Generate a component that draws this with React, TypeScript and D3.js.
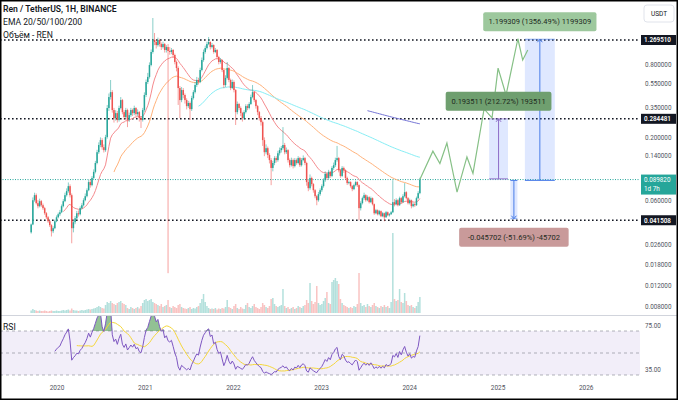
import React from "react";
import * as d3 from "d3";

// ---------- DATA ----------
const candleStart = "2019-09-16"; // weekly candles
const firstOpen = 0.033;
const closes = [
  0.0383,0.0607,0.0668,0.0574,0.0542,0.0596,0.0552,0.0522,0.0474,0.0439,
  0.0407,0.0378,0.0337,0.0357,0.0407,0.0439,0.0465,0.0483,0.0542,0.0596,
  0.0668,0.0721,0.0793,0.0668,0.0357,0.0400,0.0431,0.0474,0.0465,0.0522,
  0.0552,0.0607,0.0655,0.0734,0.0856,0.0808,0.0926,0.104,0.123,0.151,
  0.173,0.190,0.166,0.157,0.201,0.349,0.430,0.472,0.336,0.288,
  0.317,0.278,0.349,0.406,0.323,0.294,0.336,0.278,0.305,0.336,
  0.317,0.349,0.311,0.323,0.288,0.278,0.336,0.447,0.572,0.630,
  0.789,1.011,1.270,1.222,1.153,1.270,1.175,1.110,1.175,1.050,
  1.110,1.030,1.011,1.050,0.955,0.836,0.746,0.510,0.406,0.491,
  0.447,0.406,0.362,0.384,0.342,0.422,0.472,0.540,0.594,0.572,
  0.718,0.868,1.011,1.089,1.175,1.222,1.110,1.153,1.011,1.050,
  0.919,0.836,0.868,0.718,0.540,0.618,0.746,0.594,0.510,0.572,
  0.491,0.323,0.377,0.349,0.317,0.288,0.323,0.362,0.349,0.377,
  0.430,0.472,0.406,0.362,0.323,0.288,0.267,0.190,0.151,0.163,
  0.143,0.130,0.112,0.123,0.135,0.130,0.148,0.157,0.163,0.173,
  0.151,0.157,0.130,0.118,0.130,0.116,0.130,0.123,0.135,0.118,
  0.130,0.135,0.123,0.0856,0.0763,0.0926,0.0824,0.0734,0.0655,0.0607,
  0.0681,0.0734,0.0793,0.0888,0.100,0.0926,0.104,0.0962,0.112,0.118,
  0.130,0.135,0.107,0.0962,0.112,0.107,0.0926,0.0840,0.0856,0.0793,
  0.0749,0.0808,0.0856,0.0808,0.0522,0.0574,0.0631,0.0668,0.0607,0.0643,
  0.0585,0.0631,0.0563,0.0474,0.0502,0.0465,0.0493,0.0448,0.0474,0.0439,
  0.0483,0.0456,0.0465,0.0483,0.0585,0.0563,0.0607,0.0552,0.0631,0.0585,
  0.0655,0.0707,0.0631,0.0574,0.0607,0.0542,0.0563,0.0552,0.0631,0.0694,
  0.08982,
];
const highs = [
  0.0390,0.0640,0.0700,0.0690,0.0610,0.0625,0.0610,0.0570,0.0535,0.0485,
  0.0450,0.0415,0.0385,0.0370,0.0420,0.0455,0.0480,0.0505,0.0560,0.0620,
  0.0700,0.0760,0.0850,0.0820,0.0690,0.0420,0.0450,0.0495,0.0500,0.0540,
  0.0575,0.0630,0.0690,0.0760,0.0890,0.0900,0.0960,0.109,0.128,0.158,
  0.182,0.200,0.197,0.175,0.210,0.370,0.460,0.594,0.490,0.350,
  0.335,0.330,0.365,0.430,0.415,0.335,0.350,0.345,0.320,0.350,
  0.345,0.365,0.355,0.340,0.330,0.300,0.350,0.470,0.600,0.680,
  0.830,1.060,1.927,1.450,1.280,1.330,1.300,1.210,1.230,1.200,
  1.150,1.175,1.110,1.090,1.070,0.980,0.860,0.770,0.530,0.520,
  0.510,0.460,0.420,0.400,0.395,0.440,0.490,0.570,0.630,0.620,
  0.750,0.910,1.060,1.140,1.230,1.344,1.240,1.200,1.170,1.090,
  1.070,0.940,0.900,0.880,0.730,0.650,0.836,0.760,0.610,0.600,
  0.590,0.500,0.395,0.385,0.360,0.325,0.335,0.375,0.375,0.390,
  0.450,0.540,0.480,0.415,0.370,0.330,0.300,0.275,0.200,0.175,
  0.168,0.148,0.135,0.128,0.140,0.140,0.155,0.165,0.170,0.243,
  0.180,0.165,0.160,0.134,0.136,0.134,0.135,0.134,0.140,0.138,
  0.135,0.142,0.138,0.126,0.0890,0.0990,0.0950,0.0840,0.0750,0.0670,
  0.0710,0.0760,0.0820,0.0920,0.105,0.103,0.108,0.106,0.116,0.124,
  0.136,0.170,0.138,0.110,0.116,0.115,0.109,0.0950,0.0880,0.0870,
  0.0810,0.0830,0.0880,0.0870,0.0820,0.0595,0.0650,0.0700,0.0680,0.0665,
  0.0655,0.0650,0.0640,0.0570,0.0515,0.0510,0.0505,0.0500,0.0485,0.0480,
  0.0495,0.0490,0.0475,0.0495,0.0888,0.0620,0.0630,0.0620,0.0650,0.0645,
  0.0680,0.0840,0.0720,0.0645,0.0625,0.0615,0.0580,0.0575,0.0650,0.0720,
  0.0930,
];
const lows = [
  0.0322,0.0378,0.0590,0.0560,0.0520,0.0530,0.0535,0.0505,0.0460,0.0425,
  0.0395,0.0365,0.0305,0.0325,0.0350,0.0400,0.0430,0.0450,0.0475,0.0530,
  0.0585,0.0650,0.0700,0.0640,0.0268,0.0330,0.0385,0.0420,0.0445,0.0455,
  0.0510,0.0540,0.0595,0.0640,0.0720,0.0770,0.0790,0.0900,0.101,0.120,
  0.146,0.166,0.158,0.150,0.152,0.195,0.330,0.410,0.320,0.265,
  0.275,0.265,0.270,0.340,0.310,0.280,0.285,0.243,0.268,0.295,
  0.300,0.305,0.298,0.300,0.270,0.239,0.270,0.325,0.430,0.550,
  0.610,0.770,0.980,1.150,1.080,1.120,1.120,1.050,1.080,1.000,
  1.000,0.0152,0.960,0.970,0.910,0.800,0.700,0.370,0.288,0.390,
  0.420,0.380,0.340,0.350,0.278,0.330,0.410,0.460,0.520,0.545,
  0.560,0.700,0.840,0.980,1.060,1.150,1.060,1.080,0.980,0.990,
  0.890,0.800,0.810,0.690,0.510,0.520,0.600,0.570,0.490,0.500,
  0.470,0.253,0.310,0.335,0.300,0.270,0.280,0.315,0.335,0.340,
  0.370,0.420,0.390,0.345,0.305,0.275,0.250,0.170,0.140,0.145,
  0.135,0.122,0.0808,0.105,0.118,0.124,0.126,0.142,0.150,0.158,
  0.145,0.146,0.124,0.113,0.115,0.111,0.113,0.119,0.120,0.114,
  0.115,0.127,0.118,0.0800,0.0720,0.0740,0.0790,0.0700,0.0630,0.0552,
  0.0590,0.0660,0.0710,0.0770,0.0860,0.0890,0.0900,0.0930,0.0940,0.108,
  0.114,0.126,0.103,0.0930,0.0940,0.102,0.0890,0.0810,0.0820,0.0770,
  0.0720,0.0735,0.0790,0.0780,0.0415,0.0500,0.0560,0.0610,0.0590,0.0595,
  0.0570,0.0575,0.0550,0.0460,0.0465,0.0455,0.0455,0.0440,0.0440,0.0407,
  0.0435,0.0448,0.0445,0.0460,0.0475,0.0540,0.0550,0.0540,0.0545,0.0570,
  0.0580,0.0640,0.0615,0.0560,0.0560,0.0520,0.0530,0.0535,0.0545,0.0620,
  0.0680,
];
const volumes = [
  5,8,6,5,4,5,4,4,5,4, 3,4,5,4,4,5,4,4,5,6, 5,6,7,5,9,6,5,5,4,5,
  6,5,6,7,8,7,8,9,10,12, 14,12,10,9,16,22,20,24,20,18, 16,20,22,24,20,18,16,10,8,12,
  10,8,10,12,9,14,20,26,28,24, 26,28,22,20,18,16,14,18,12,14, 16,26,12,10,14,12,10,16,18,12,
  10,9,8,10,12,8,10,9,12,14, 20,28,38,22,14,10,8,9,8,10, 7,9,8,10,9,12,26,12,10,8,
  14,18,10,8,12,9,8,16,20,12, 10,14,18,12,10,8,12,20,16,12, 10,14,28,30,18,14,12,14,16,48,
  14,10,12,8,10,12,8,10,14,12, 10,14,16,26,20,60,24,18,22,54, 20,16,18,24,30,42,20,18,62,66,
  70,64,58,28,20,16,14,12,10,12, 10,14,12,18,80,20,14,16,12,18, 14,12,16,20,14,12,10,14,12,16,
  12,14,10,22,160,28,24,26,48,22, 20,40,24,16,14,16,12,10,14,22, 32,
];

const emaPeriods = [20, 50, 100, 200];
const emaColors = ["#f58a8e", "#ffb27a", "#86eef5", "#7474d6"];
const rsiPeriod = 14;

const priceTicks = [0.8, 0.55, 0.35, 0.2, 0.14, 0.06, 0.026, 0.018, 0.012, 0.008];
const levelPrices = [1.26951, 0.284481, 0.041508];
const levelLabels = ["1.269510", "0.284481", "0.041508"];
const lastPrice = 0.08982;
const lastLabel = "0.089820";
const countdown = "1d 7h";
const yearTicks = [2020, 2021, 2022, 2023, 2024, 2025, 2026];
const rsiTicks = [75, 35];

const forecastDates = ["2024-02-12","2024-04-06","2024-05-05","2024-06-03","2024-07-15","2024-08-25","2024-09-19","2024-11-04","2024-12-07","2025-01-01","2025-02-03","2025-03-24","2025-04-13","2025-05-04"];
const forecastPrices = [0.08982,0.154,0.122,0.180,0.0708,0.138,0.101,0.343,0.290,0.745,0.447,1.30,0.868,1.05];

const measureStart = ["2024-11-25", "2025-04-22", "2025-02-21"];
const measureEnd = ["2025-02-11", "2025-08-24", "2025-03-22"];
const measureFrom = [0.09097, 0.088412, 0.088416];
const measureTo = [0.284481, 1.287721, 0.042714];
const measureLabels = ["0.193511 (212.72%) 193511", "1.199309 (1356.49%) 1199309", "-0.045702 (-51.69%) -45702"];
const measureLabelFill = ["#6f9f6f", "#9dc89d", "#c99a9a"];
const measureLine = ["#8d6cc8", "#4a7de8", "#4a7de8"];

// ---------- HELPERS ----------
function ema(src: number[], len: number): (number | null)[] {
  const out: (number | null)[] = src.map(() => null);
  if (src.length < len) return out;
  let s = 0;
  for (let i = 0; i < len; i++) s += src[i];
  let v = s / len;
  out[len - 1] = v;
  const a = 2 / (len + 1);
  for (let i = len; i < src.length; i++) {
    v = a * src[i] + (1 - a) * v;
    out[i] = v;
  }
  return out;
}
function rsi(src: number[], len: number): (number | null)[] {
  const out: (number | null)[] = src.map(() => null);
  let g = 0, l = 0;
  for (let i = 1; i <= len; i++) {
    const d = src[i] - src[i - 1];
    if (d > 0) g += d; else l -= d;
  }
  let ag = g / len, al = l / len;
  out[len] = al === 0 ? 100 : 100 - 100 / (1 + ag / al);
  for (let i = len + 1; i < src.length; i++) {
    const d = src[i] - src[i - 1];
    ag = (ag * (len - 1) + Math.max(d, 0)) / len;
    al = (al * (len - 1) + Math.max(-d, 0)) / len;
    out[i] = al === 0 ? 100 : 100 - 100 / (1 + ag / al);
  }
  return out;
}
function sma(src: (number | null)[], len: number): (number | null)[] {
  return src.map((_, i) => {
    if (i < len - 1) return null;
    let s = 0;
    for (let k = i - len + 1; k <= i; k++) {
      const v = src[k];
      if (v == null) return null;
      s += v;
    }
    return s / len;
  });
}

const FONT = "Roboto, 'Noto Sans', sans-serif";

export default function App() {
  const parse = d3.timeParse("%Y-%m-%d");
  const PR = 640;
  const x = d3.scaleTime().domain([new Date(2020, 0, 1), new Date(2026, 0, 1)]).range([57, 586.2]);
  const y = d3.scaleLog().domain([0.008, 1.26951]).range([307, 40]);
  const vy = d3.scaleLinear().domain([0, 160]).range([313, 233]);
  const ry = d3.scaleLinear().domain([30, 70]).range([375, 331]);

  const start = parse(candleStart) as Date;
  const n = Math.min(closes.length, highs.length, lows.length, volumes.length);
  const idx = d3.range(n);
  const dates = idx.map((i) => d3.timeDay.offset(start, 7 * i));
  const opens = idx.map((i) => (i === 0 ? firstOpen : closes[i - 1]));
  const cl = closes.slice(0, n);

  const emas = emaPeriods.map((p) => ema(cl, p));
  const rsiV = rsi(cl, rsiPeriod);
  const sig = sma(rsiV, rsiPeriod);

  const GREEN = "#26a69a";
  const RED = "#ef5350";
  const bw = 1.5;

  const mkLine = (arr: (number | null)[], sc: (v: number) => number) =>
    d3.line<number>().defined((i) => arr[i] != null).x((i) => x(dates[i])).y((i) => sc(arr[i] as number))(idx) || "";

  const rsiArea =
    d3.area<number>()
      .defined((i) => rsiV[i] != null)
      .x((i) => x(dates[i]))
      .y0(ry(70))
      .y1((i) => ry(Math.max(rsiV[i] as number, 70)))(idx) || "";

  const fDates = forecastDates.map((d) => parse(d) as Date);
  const forecast = d3.line<number>().x((i) => x(fDates[i])).y((i) => y(forecastPrices[i]))(d3.range(forecastPrices.length)) || "";

  const yearX = (yr: number) => x(new Date(yr, 0, 1));

  return (
    <svg width={678} height={400} style={{ position: "absolute", left: 0, top: 0, background: "#fff" }} fontFamily={FONT}>
      <defs>
        <clipPath id="plot"><rect x={0} y={0} width={PR} height={315} /></clipPath>
        <clipPath id="rsip"><rect x={0} y={316} width={PR} height={64} /></clipPath>
      </defs>
      <rect x={0} y={0} width={678} height={400} fill="#fff" />

      {/* level lines */}
      {levelPrices.map((p, k) => (
        <line key={k} x1={0} x2={PR} y1={y(p)} y2={y(p)} stroke="#131722" strokeWidth={1.6} strokeDasharray="1.6,2.4" />
      ))}
      <line x1={0} x2={PR} y1={y(lastPrice)} y2={y(lastPrice)} stroke={GREEN} strokeWidth={1} strokeDasharray="1,1.5" />

      <g clipPath="url(#plot)">
        {/* volume */}
        {idx.map((i) => {
          const up = cl[i] >= opens[i];
          return (
            <rect key={"v" + i} x={x(dates[i]) - bw / 2} y={vy(volumes[i])} width={bw} height={vy(0) - vy(volumes[i])}
              fill={up ? "rgba(38,166,154,0.35)" : "rgba(239,83,80,0.35)"} />
          );
        })}
        {/* measure boxes */}
        {measureStart.map((s, k) => {
          const x1 = x(parse(s) as Date), x2 = x(parse(measureEnd[k]) as Date);
          const yf = y(measureFrom[k]), yt = y(measureTo[k]);
          const cx = (x1 + x2) / 2;
          const up = yt < yf;
          const ah = up ? 3 : -3;
          return (
            <g key={"m" + k}>
              <rect x={x1} y={Math.min(yf, yt)} width={x2 - x1} height={Math.abs(yf - yt)} fill="rgba(41,98,255,0.15)" />
              <line x1={x1} x2={x2} y1={yf} y2={yf} stroke={measureLine[k]} strokeWidth={1} />
              <line x1={x1} x2={x2} y1={yt} y2={yt} stroke={measureLine[k]} strokeWidth={1} opacity={0.6} />
              <line x1={cx} x2={cx} y1={yf} y2={yt} stroke={measureLine[k]} strokeWidth={1} />
              <path d={`M${cx - 2.5},${yt + ah} L${cx},${yt} L${cx + 2.5},${yt + ah}`} fill="none" stroke={measureLine[k]} strokeWidth={1} />
            </g>
          );
        })}
        {/* EMAs */}
        {emas.map((e, k) => (
          <path key={"e" + k} d={mkLine(e, y)} fill="none" stroke={emaColors[k]} strokeWidth={1} />
        ))}
        {/* candles */}
        {idx.map((i) => {
          const up = cl[i] >= opens[i];
          const c = up ? GREEN : RED;
          const cx = x(dates[i]);
          const top = y(Math.max(opens[i], cl[i]));
          const bot = y(Math.min(opens[i], cl[i]));
          return (
            <g key={"c" + i}>
              <line x1={cx} x2={cx} y1={y(highs[i])} y2={y(lows[i])} stroke={c} strokeOpacity={0.55} strokeWidth={1} />
              <rect x={cx - bw / 2} y={top} width={bw} height={Math.max(bot - top, 0.8)} fill={c} />
            </g>
          );
        })}
        {/* forecast path */}
        <path d={forecast} fill="none" stroke="#86c086" strokeWidth={1.2} />
      </g>

      {/* measure labels */}
      {measureStart.map((s, k) => {
        const x1 = x(parse(s) as Date), x2 = x(parse(measureEnd[k]) as Date);
        const cx = (x1 + x2) / 2;
        const yf = y(measureFrom[k]), yt = y(measureTo[k]);
        const up = yt < yf;
        const w = measureLabels[k].length * 3.75 + 12;
        const h = 19;
        const ly = up ? yt - 8 - h : yt + 9;
        return (
          <g key={"ml" + k}>
            <rect x={cx - w / 2} y={ly} width={w} height={h} rx={2} fill={measureLabelFill[k]} />
            <text x={cx} y={ly + h / 2 + 2.7} textAnchor="middle" fontSize={7.5} fill="#1e2a1e">{measureLabels[k]}</text>
          </g>
        );
      })}

      {/* header texts */}
      <text x={3} y={12} fontSize={8.6} fontWeight={600} fill="#131722">Ren / TetherUS, 1H, BINANCE</text>
      <text x={3} y={25} fontSize={8.6} fill="#131722">EMA 20/50/100/200</text>
      <text x={3} y={37.5} fontSize={8.6} fill="#131722">Объём - REN</text>

      {/* price axis */}
      <rect x={644} y={5} width={30} height={17} rx={3} fill="#fff" stroke="#e0e3eb" />
      <text x={659} y={16} textAnchor="middle" fontSize={6.5} fill="#131722">USDT</text>
      {priceTicks.map((p, k) => (
        <text key={"pt" + k} x={645} y={y(p) + 2.3} fontSize={6.3} fill="#50535e">{p.toFixed(6)}</text>
      ))}
      {levelPrices.map((p, k) => (
        <g key={"lb" + k}>
          <rect x={641} y={y(p) - 5} width={35} height={10} fill="#131722" />
          <text x={644} y={y(p) + 2.3} fontSize={6.3} fontWeight={600} fill="#fff">{levelLabels[k]}</text>
        </g>
      ))}
      <rect x={641} y={y(lastPrice) - 5} width={35} height={20} fill={GREEN} />
      <text x={644} y={y(lastPrice) + 2.3} fontSize={6.3} fill="#fff">{lastLabel}</text>
      <text x={644} y={y(lastPrice) + 11.5} fontSize={6.3} fill="#fff">{countdown}</text>

      {/* pane separator */}
      <line x1={0} x2={678} y1={315.5} y2={315.5} stroke="#d1d4dc" strokeWidth={1} />

      {/* RSI pane */}
      <rect x={0} y={ry(70)} width={PR} height={ry(30) - ry(70)} fill="rgba(126,87,194,0.1)" />
      {[70, 50, 30].map((v) => (
        <line key={"rl" + v} x1={0} x2={PR} y1={ry(v)} y2={ry(v)} stroke="#787b86" strokeOpacity={0.7} strokeWidth={0.8} strokeDasharray="3,3" />
      ))}
      <g clipPath="url(#rsip)">
        <path d={rsiArea} fill="rgba(56,142,60,0.55)" />
        <path d={mkLine(sig, ry)} fill="none" stroke="#f5d73a" strokeWidth={1} />
        <path d={mkLine(rsiV, ry)} fill="none" stroke="#7e57c2" strokeWidth={1} />
      </g>
      <text x={3} y={330} fontSize={8.6} fill="#131722">RSI</text>
      {rsiTicks.map((v) => (
        <text key={"rt" + v} x={645} y={ry(v) + 2.3} fontSize={6.3} fill="#50535e">{v.toFixed(2)}</text>
      ))}

      {/* time axis */}
      {yearTicks.map((yr) => (
        <text key={"yr" + yr} x={yearX(yr)} y={390} textAnchor="middle" fontSize={6.5} fill="#50535e">{yr}</text>
      ))}

      {/* frame */}
      <rect x={0.75} y={0.75} width={676.5} height={398.5} fill="none" stroke="#000" strokeWidth={1.5} />
    </svg>
  );
}
